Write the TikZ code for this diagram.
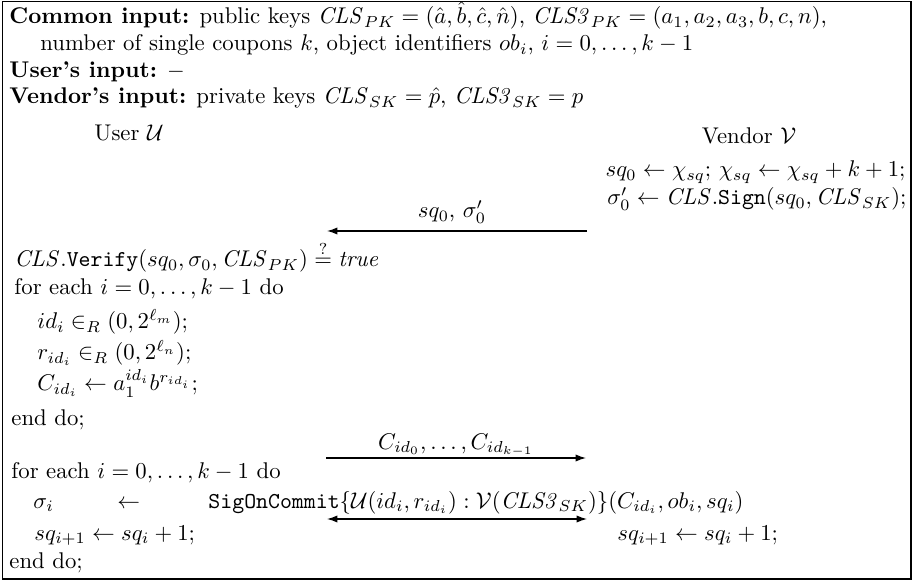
\documentclass[tikz,border=0pt]{standalone}
\usetikzlibrary{arrows.meta}
\begin{document}
\begin{tikzpicture}[x=0.44pt,y=-0.44pt,
  lt/.style={inner sep=0pt,anchor=base west},
  rt/.style={inner sep=0pt,anchor=base east},
  ct/.style={inner sep=0pt,anchor=base},
  tip/.tip={Latex[length=4.6pt,width=3.2pt]},
  msg/.style={line width=0.55pt,-tip},
  msgb/.style={line width=0.55pt,tip-tip}]
\useasboundingbox (0,0) rectangle (917,582);
\draw[line width=0.55pt] (2.5,1.5) rectangle (911,579);
\node[lt] (c1) at (9,24) {\textbf{Common input:} public keys $\mathit{CLS}_{PK}=(\hat a,\hat b,\hat c,\hat n)$, $\mathit{CLS3}_{PK}=(a_1,a_2,a_3,b,c,n)$,};
\node[lt] (c2) at (40,51) {number of single coupons $k$, object identifiers $ob_i$, $i=0,\ldots,k-1$};
\node[lt] (c3) at (9,78) {\textbf{User's input:} $-$};
\node[lt] (c4) at (9,104) {\textbf{Vendor's input:} private keys $\mathit{CLS}_{SK}=\hat p$, $\mathit{CLS3}_{SK}=p$};
\node[ct] (user) at (129,141) {User $\mathcal{U}$};
\node[ct] (vendor) at (749,144) {Vendor $\mathcal{V}$};
\node[rt] (v1) at (906,177) {$sq_0\leftarrow\chi_{sq}$; $\chi_{sq}\leftarrow\chi_{sq}+k+1$;};
\node[rt] (v2) at (907,205) {$\sigma'_0\leftarrow \mathit{CLS}.\texttt{Sign}(sq_0,\mathit{CLS}_{SK})$;};
\coordinate (a1r) at (587,231);
\coordinate (a1l) at (327,231);
\draw[msg] (a1r) -- (a1l);
\node[ct] (m1) at (452,218) {$sq_0$, $\sigma'_0$};
\node[lt] (u1) at (14,267) {$\mathit{CLS}.\texttt{Verify}(sq_0,\sigma_0,\mathit{CLS}_{PK})\stackrel{?}{=}\mathit{true}$};
\node[lt] (u2) at (14,295) {for each $i=0,\ldots,k-1$ do};
\node[lt] (u3) at (37,329) {$id_i\in_R(0,2^{\ell_m})$;};
\node[lt] (u4) at (37,360) {$r_{id_i}\in_R(0,2^{\ell_n})$;};
\node[lt] (u5) at (37,391) {$C_{id_i}\leftarrow a_1^{id_i}b^{r_{id_i}}$;};
\node[lt] (u6) at (11,426) {end do;};
\coordinate (a2l) at (326,458);
\coordinate (a2r) at (586,458);
\draw[msg] (a2l) -- (a2r);
\node[ct] (m2) at (456,449) {$C_{id_0},\ldots,C_{id_{k-1}}$};
\node[lt] (u7) at (11,479) {for each $i=0,\ldots,k-1$ do};
\node[lt] (u8) at (33,508) {$\sigma_i$};
\node[lt] (u9) at (117,508) {$\leftarrow$};
\node[lt] (u10) at (208,508) {\texttt{SigOnCommit}$\{\mathcal{U}(id_i,r_{id_i}):\mathcal{V}(\mathit{CLS3}_{SK})\}(C_{id_i},ob_i,sq_i)$};
\coordinate (a3l) at (327,519);
\coordinate (a3r) at (587,519);
\draw[msgb] (a3l) -- (a3r);
\node[lt] (u11) at (34,540) {$sq_{i+1}\leftarrow sq_i+1$;};
\node[lt] (v3) at (617,540) {$sq_{i+1}\leftarrow sq_i+1$;};
\node[lt] (u12) at (9,568) {end do;};
\end{tikzpicture}
\end{document}
